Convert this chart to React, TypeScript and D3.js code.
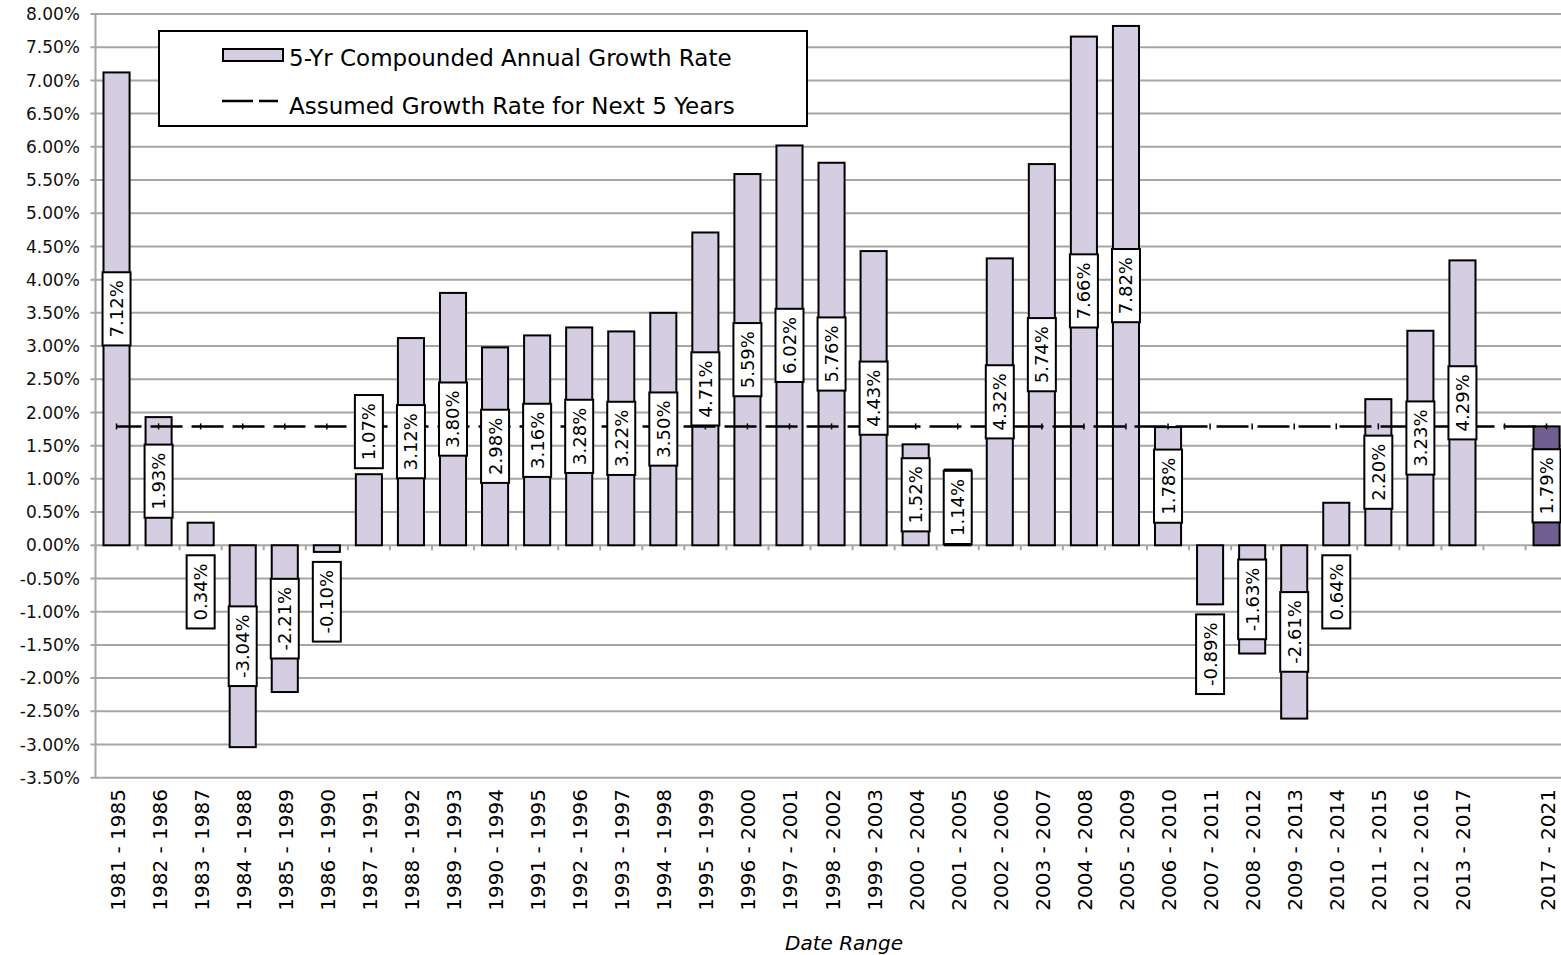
import React from "react";
import * as d3 from "d3";

// Rolling 5-year windows on the category axis; the blank slot separates the projection.
const categories: string[] = [
  "1981 - 1985", "1982 - 1986", "1983 - 1987", "1984 - 1988", "1985 - 1989",
  "1986 - 1990", "1987 - 1991", "1988 - 1992", "1989 - 1993", "1990 - 1994",
  "1991 - 1995", "1992 - 1996", "1993 - 1997", "1994 - 1998", "1995 - 1999",
  "1996 - 2000", "1997 - 2001", "1998 - 2002", "1999 - 2003", "2000 - 2004",
  "2001 - 2005", "2002 - 2006", "2003 - 2007", "2004 - 2008", "2005 - 2009",
  "2006 - 2010", "2007 - 2011", "2008 - 2012", "2009 - 2013", "2010 - 2014",
  "2011 - 2015", "2012 - 2016", "2013 - 2017", "", "2017 - 2021",
];

// 5-yr compounded annual growth rate, in percent
const growthRates: (number | null)[] = [
  7.12, 1.93, 0.34, -3.04, -2.21,
  -0.10, 1.07, 3.12, 3.80, 2.98,
  3.16, 3.28, 3.22, 3.50, 4.71,
  5.59, 6.02, 5.76, 4.43, 1.52,
  1.14, 4.32, 5.74, 7.66, 7.82,
  1.78, -0.89, -1.63, -2.61, 0.64,
  2.20, 3.23, 4.29, null, 1.79,
];

// The forward-looking window is shaded differently
const projectedWindows: string[] = ["2017 - 2021"];

// Assumed growth rate for the next 5 years, in percent
const assumedRate = 1.79;

const yTicks: number[] = [
  -3.5, -3, -2.5, -2, -1.5, -1, -0.5, 0, 0.5, 1, 1.5, 2, 2.5, 3, 3.5, 4, 4.5,
  5, 5.5, 6, 6.5, 7, 7.5, 8,
];

const seriesNames: string[] = [
  "5-Yr Compounded Annual Growth Rate",
  "Assumed Growth Rate for Next 5 Years",
];
const xAxisTitle = "Date Range";

const WIDTH = 1561;
const HEIGHT = 955;
const FONT = "'DejaVu Sans', 'Liberation Sans', sans-serif";
const GRID = "#a6a6a6";
const BAR_FILL = "#d5cde2";
const BAR_FILL_PROJ = "#735e91";

const plot = { left: 95.5, right: 1567.6, top: 14, bottom: 777.7 };

const LABEL_FONT = 18;
const LABEL_PAD = 8;
const LABEL_BOX_W = 28;
const LABEL_GAP = 10;

let ctx: CanvasRenderingContext2D | null = null;
function textWidth(s: string, size: number): number {
  if (!ctx && typeof document !== "undefined") {
    ctx = document.createElement("canvas").getContext("2d");
  }
  if (ctx) {
    ctx.font = `${size}px 'DejaVu Sans'`;
    return ctx.measureText(s).width;
  }
  return s.length * size * 0.62;
}

const fmt = (v: number) => `${v.toFixed(2)}%`;

export default function App() {
  const x = d3
    .scaleBand<string>()
    .domain(categories.map((c, i) => c || `gap-${i}`))
    .range([plot.left, plot.right])
    .paddingInner(0.38)
    .paddingOuter(0.19);
  const key = (i: number) => categories[i] || `gap-${i}`;
  const cx = (i: number) => (x(key(i)) ?? 0) + x.bandwidth() / 2;

  const y = d3.scaleLinear().domain([-3.5, 8]).range([plot.bottom, plot.top]);
  const y0 = y(0);

  const step = x.step();
  const boundaries = d3.range(categories.length + 1).map((k) => plot.left + k * step);

  const linePath = d3.line<number>()
    .x((i) => cx(i))
    .y(() => y(assumedRate))(categories.map((_, i) => i)) || "";

  const labels = growthRates.map((v, i) => {
    if (v === null) return null;
    const text = fmt(v);
    const len = textWidth(text, LABEL_FONT) + 2 * LABEL_PAD;
    const barLen = Math.abs(y(v) - y0);
    let cy: number;
    if (barLen >= len) cy = (y(v) + y0) / 2;
    else if (v >= 1) cy = y(v) - LABEL_GAP + 4 - len / 2;
    else cy = Math.max(y0, y(v)) + LABEL_GAP + len / 2;
    return { i, text, len, cy };
  });

  return (
    <svg
      width={WIDTH}
      height={HEIGHT}
      style={{ position: "absolute", left: 0, top: 0, display: "block", background: "#fff" }}
      fontFamily={FONT}
    >
      <rect x={0} y={0} width={WIDTH} height={HEIGHT} fill="#fff" />

      {/* horizontal gridlines and y-axis ticks */}
      {yTicks.map((t) => (
        <g key={t}>
          <line x1={plot.left - 5} x2={plot.right} y1={y(t)} y2={y(t)} stroke={GRID} strokeWidth={2} />
          <text
            x={80}
            y={y(t)}
            dy="0.36em"
            textAnchor="end"
            fontSize={17}
            fill="#111"
          >
            {fmt(t)}
          </text>
        </g>
      ))}
      <line x1={plot.left} x2={plot.left} y1={plot.top} y2={plot.bottom} stroke={GRID} strokeWidth={2} />

      {/* ticks under the zero line between categories */}
      {boundaries.map((bx, k) => (
        <line key={k} x1={bx} x2={bx} y1={y0} y2={y0 + 5} stroke={GRID} strokeWidth={2} />
      ))}

      {/* bars */}
      {growthRates.map((v, i) =>
        v === null ? null : (
          <rect
            key={i}
            x={x(key(i))}
            width={x.bandwidth()}
            y={Math.min(y(v), y0)}
            height={Math.abs(y(v) - y0)}
            fill={projectedWindows.includes(categories[i]) ? BAR_FILL_PROJ : BAR_FILL}
            stroke="#000"
            strokeWidth={2}
          />
        )
      )}

      {/* assumed growth rate line with markers */}
      <path
        d={linePath}
        fill="none"
        stroke="#000"
        strokeWidth={2.5}
        strokeDasharray="32 9"
        strokeDashoffset={7}
      />
      {categories.map((_, i) => (
        <line
          key={i}
          x1={cx(i)}
          x2={cx(i)}
          y1={y(assumedRate) - 3}
          y2={y(assumedRate) + 3}
          stroke="#000"
          strokeWidth={1.5}
        />
      ))}

      {/* value labels */}
      {labels.map((l) =>
        l === null ? null : (
          <g key={l.i} transform={`translate(${cx(l.i)},${l.cy})`}>
            <rect
              x={-LABEL_BOX_W / 2}
              y={-l.len / 2}
              width={LABEL_BOX_W}
              height={l.len}
              fill="#fff"
              stroke="#000"
              strokeWidth={2}
            />
            <text
              transform="rotate(-90)"
              textAnchor="middle"
              dy="0.36em"
              fontSize={LABEL_FONT}
              fill="#000"
            >
              {l.text}
            </text>
          </g>
        )
      )}

      {/* category labels */}
      {categories.map((c, i) =>
        c ? (
          <text
            key={i}
            transform={`translate(${cx(i)},789) rotate(-90)`}
            textAnchor="end"
            dy="0.4em"
            fontSize={20}
            fill="#000"
          >
            {c}
          </text>
        ) : null
      )}

      <text x={844} y={950} textAnchor="middle" fontSize={20} fontStyle="italic" fill="#000">
        {xAxisTitle}
      </text>

      {/* legend */}
      <g>
        <rect x={159} y={31} width={648} height={95} fill="#fff" stroke="#000" strokeWidth={2} />
        <rect x={223} y={49} width={60} height={12} fill={BAR_FILL} stroke="#000" strokeWidth={2} />
        <text x={289} y={66} fontSize={23} fill="#000">
          {seriesNames[0]}
        </text>
        <line
          x1={222}
          x2={278}
          y1={101}
          y2={101}
          stroke="#000"
          strokeWidth={2.5}
          strokeDasharray="31 6"
        />
        <text x={289} y={114} fontSize={23} fill="#000">
          {seriesNames[1]}
        </text>
      </g>
    </svg>
  );
}
